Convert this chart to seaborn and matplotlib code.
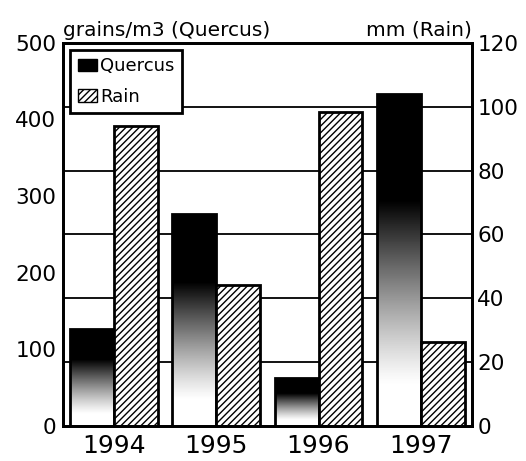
import numpy as np
import pandas as pd
import matplotlib
matplotlib.use("Agg")
import matplotlib.pyplot as plt
from matplotlib.colors import LinearSegmentedColormap
from matplotlib.patches import Patch
import seaborn as sns

# dados
years = ["1994", "1995", "1996", "1997"]
quercus = [127, 276, 62, 433]   # grains/m3
rain = [94, 44, 98.5, 26.3]     # mm

sns.set_theme(style="white")
plt.rcParams['font.family'] = ['DejaVu Sans']
plt.rcParams['text.color'] = 'black'
plt.rcParams['xtick.color'] = 'black'
plt.rcParams['ytick.color'] = 'black'

df = pd.DataFrame({
    "year": years * 2,
    "series": ["Quercus"] * 4 + ["Rain"] * 4,
    "value": quercus + rain,
})

fig = plt.figure(figsize=(5.26, 4.61), dpi=100)
ax = fig.add_axes([0.12, 0.076, 0.777, 0.831])
ax2 = ax.twinx()

# grid da escala da direita, atras das barras
ax2.set_zorder(0)
ax.set_zorder(1)
ax.patch.set_visible(False)
ax2.set_ylim(0, 120)
ax2.set_yticks([0, 20, 40, 60, 80, 100, 120])
for v in [20, 40, 60, 80, 100]:
    ax2.axhline(v, color="black", lw=1.3, zorder=0)

hue_order = ["Quercus", "Rain"]
sns.barplot(data=df[df.series == "Quercus"], x="year", y="value", hue="series",
            hue_order=hue_order, order=years, ax=ax, width=0.86, dodge=True,
            palette={"Quercus": "white", "Rain": "white"}, edgecolor="black",
            linewidth=2, legend=False)

# barras de chuva desenhadas no eixo principal, convertidas para a escala da direita
rain_df = df[df.series == "Rain"].copy()
rain_df["value"] = rain_df["value"] * 500 / 120
sns.barplot(data=rain_df, x="year", y="value", hue="series",
            hue_order=hue_order, order=years, ax=ax, width=0.86, dodge=True,
            palette={"Quercus": "white", "Rain": "white"}, edgecolor="black",
            linewidth=2, hatch="/////", legend=False)

ax.set_ylim(0, 500)
ax.set_xlim(-0.5, 3.5)

# gradiente preto -> branco nas barras de Quercus
t = np.linspace(0, 1, 256)
dark = np.clip((t - 0.12) / 0.56, 0, 1) ** 1.2
grad = dark[::-1].reshape(-1, 1)
cmap = LinearSegmentedColormap.from_list("bw", ["white", "black"])
for bar in ax.patches[:4]:
    x0, y0 = bar.get_x(), bar.get_y()
    w, h = bar.get_width(), bar.get_height()
    im = ax.imshow(grad, cmap=cmap, vmin=0, vmax=1, aspect="auto",
                   extent=[x0, x0 + w, y0, y0 + h], zorder=bar.get_zorder() - 0.1)
    im.set_clip_path(bar)
    bar.set_facecolor("none")
ax.set_xlim(-0.5, 3.5)
ax.set_ylim(0, 500)

ax.set_xlabel("")
ax.set_ylabel("")
ax.set_yticks([0, 100, 200, 300, 400, 500])
ax.tick_params(axis="y", labelsize=15.5, length=0, pad=5)
ax.tick_params(axis="x", labelsize=18, length=0, pad=6)
ax2.tick_params(axis="y", labelsize=15.5, length=0, pad=4)
for a in (ax, ax2):
    for s in a.spines.values():
        s.set_linewidth(2)
        s.set_color("black")

ax.text(0.0, 1.008, "grains/m3 (Quercus)", transform=ax.transAxes,
        ha="left", va="bottom", fontsize=14.5)
ax.text(1.0, 1.008, "mm (Rain)", transform=ax.transAxes,
        ha="right", va="bottom", fontsize=14.5)

handles = [Patch(facecolor="black", edgecolor="black", label="Quercus"),
           Patch(facecolor="white", edgecolor="black", hatch="/////", label="Rain")]
leg = ax.legend(handles=handles, loc="upper left", fontsize=13, frameon=True,
                fancybox=False, framealpha=1, borderaxespad=0.4, handlelength=1.1,
                handletextpad=0.15, labelspacing=0.7, borderpad=0.4)
leg.get_frame().set_edgecolor("black")
leg.get_frame().set_linewidth(2)

fig.savefig("out.png", dpi=100)
